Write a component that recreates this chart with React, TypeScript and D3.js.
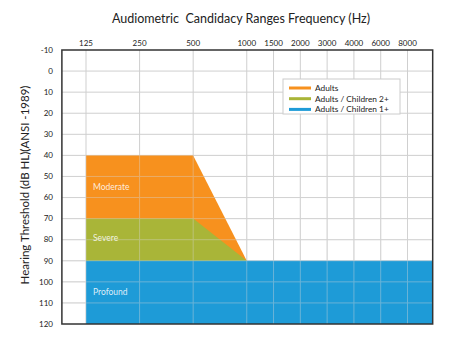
import React from "react";
import * as d3 from "d3";

const freqTicks = [125, 250, 500, 1000, 1500, 2000, 3000, 4000, 6000, 8000];
const dbTicks = [-10, 0, 10, 20, 30, 40, 50, 60, 70, 80, 90, 100, 110, 120];

// Region boundaries [frequency, dB]
const adultsTop: [number, number][] = [[125, 40], [500, 40], [1000, 90]];
const children2Top: [number, number][] = [[125, 70], [500, 70], [1000, 90]];
const children1Top: [number, number][] = [[125, 90], [8000, 90]];

const seriesNames = ["Adults", "Adults / Children 2+", "Adults / Children 1+"];
const seriesColors = ["#F7911E", "#A9B538", "#1E9BD7"];
const regionLabels = [
  { text: "Moderate", f: 125, db: 55 },
  { text: "Severe", f: 125, db: 79 },
  { text: "Profound", f: 125, db: 105 },
];

const W = 450, H = 341;
const FONT = "Lato, 'Open Sans', sans-serif";

// octave position: half-octave ticks sit midway between octaves
const oct = (f: number) => {
  const l = Math.log2(f / 125);
  return Math.abs(l - Math.round(l)) < 1e-6 ? Math.round(l) : Math.floor(l) + 0.5;
};

export default function App() {
  const x = d3.scaleLinear().domain([0, 6]).range([86, 407.5]);
  const y = d3.scaleLinear().domain([-10, 120]).range([50, 324]);
  const fx = (f: number) => x(oct(f));
  const left = x(-0.45), right = x(6.47);
  const top = y(-10), bottom = y(120);

  const area = (pts: [number, number][], extendRight = false) => {
    const p = pts.map(([f, db]) => [fx(f), y(db)] as [number, number]);
    if (extendRight) p[p.length - 1][0] = right;
    const poly = [...p, [p[p.length - 1][0], bottom] as [number, number], [p[0][0], bottom] as [number, number]];
    return d3.line()(poly) + "Z";
  };

  return (
    <svg width={W} height={H} style={{ position: "absolute", left: 0, top: 0, background: "#fff" }}>
      <text x={241} y={23} textAnchor="middle" fontFamily={FONT} fontSize={12.5} fill="#222">
        Audiometric&#160; Candidacy Ranges Frequency (Hz)
      </text>
      {/* gridlines under */}
      {freqTicks.map((f) => (
        <line key={"v" + f} x1={fx(f)} x2={fx(f)} y1={top} y2={bottom} stroke="#cfcfcf" strokeWidth={1} />
      ))}
      {dbTicks.slice(1, -1).map((d) => (
        <line key={"h" + d} x1={left} x2={right} y1={y(d)} y2={y(d)} stroke="#cfcfcf" strokeWidth={1} />
      ))}
      <path d={area(adultsTop)} fill={seriesColors[0]} />
      <path d={area(children2Top)} fill={seriesColors[1]} />
      <path d={area(children1Top, true)} fill={seriesColors[2]} />
      {/* faint gridlines over regions */}
      <g opacity={0.4}>
        {freqTicks.map((f) => (
          <line key={"v2" + f} x1={fx(f)} x2={fx(f)} y1={y(40)} y2={bottom} stroke="#d8d8d8" strokeWidth={1} />
        ))}
        {dbTicks.slice(1, -1).filter((d) => d > 40).map((d) => (
          <line key={"h2" + d} x1={left} x2={right} y1={y(d)} y2={y(d)} stroke="#d8d8d8" strokeWidth={1} />
        ))}
      </g>
      {regionLabels.map((r) => (
        <text key={r.text} x={fx(r.f) + 7} y={y(r.db)} dy="0.35em" fontFamily={FONT} fontSize={8.5} fill="#fff" fillOpacity={0.85}>
          {r.text}
        </text>
      ))}
      {/* legend */}
      <rect x={283} y={79} width={117} height={35} fill="#fff" stroke="#ccc" strokeWidth={1} />
      {seriesNames.map((s, i) => (
        <g key={s}>
          <line x1={289} x2={311} y1={88 + i * 10.7} y2={88 + i * 10.7} stroke={seriesColors[i]} strokeWidth={3} />
          <text x={315} y={88 + i * 10.7} dy="0.35em" fontFamily={FONT} fontSize={8.3} fill="#222">
            {s}
          </text>
        </g>
      ))}
      {/* frame */}
      <rect x={left} y={top} width={right - left} height={bottom - top} fill="none" stroke="#333" strokeWidth={1.5} />
      {freqTicks.map((f) => (
        <text key={"t" + f} x={fx(f)} y={46} textAnchor="middle" fontFamily={FONT} fontSize={8} fill="#222">
          {f}
        </text>
      ))}
      {dbTicks.map((d) => (
        <text key={"y" + d} x={53} y={y(d)} dy="0.35em" textAnchor="end" fontFamily={FONT} fontSize={8} fill="#222">
          {d}
        </text>
      ))}
      <text transform={`translate(25,185) rotate(-90)`} textAnchor="middle" fontFamily={FONT} fontSize={11.5} fill="#222" dy="0.35em">
        Hearing Threshold (dB HL)(ANSI -1989)
      </text>
    </svg>
  );
}
